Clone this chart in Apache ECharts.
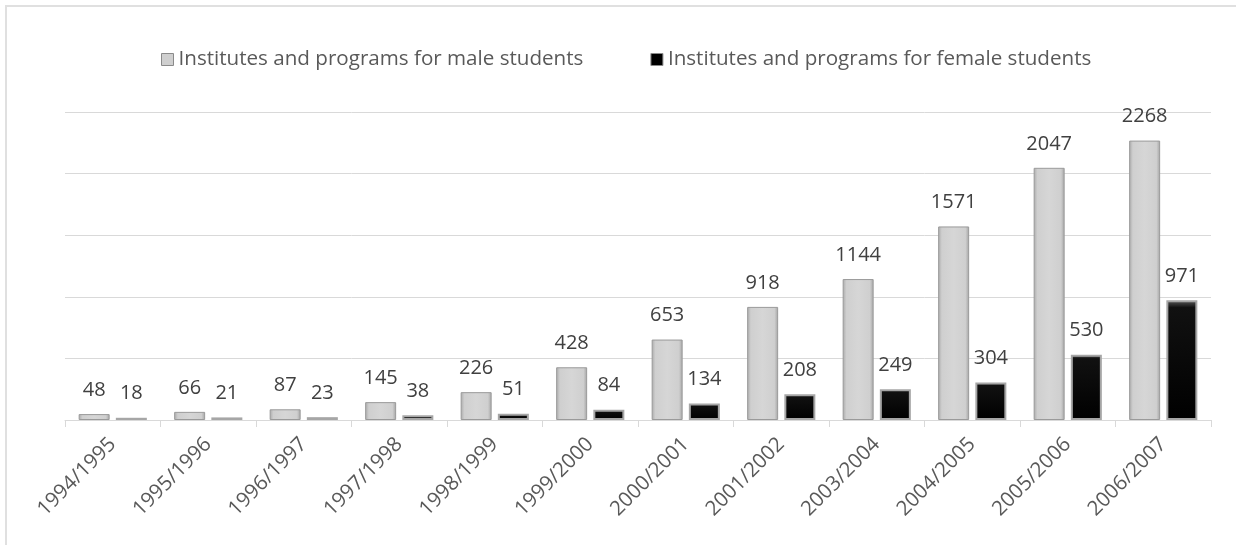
<!DOCTYPE html>
<html>
<head>
<meta charset="utf-8">
<script src="https://cdn.jsdelivr.net/npm/echarts@6/dist/echarts.min.js"></script>
<style>
html,body{margin:0;padding:0;background:#fff;}
#chart{width:1236px;height:545px;}
</style>
</head>
<body>
<div id="chart"></div>
<script>
var categories = ['1994/1995','1995/1996','1996/1997','1997/1998','1998/1999','1999/2000','2000/2001','2001/2002','2003/2004','2004/2005','2005/2006','2006/2007'];
var maleValues = [48,66,87,145,226,428,653,918,1144,1571,2047,2268];
var femaleValues = [18,21,23,38,51,84,134,208,249,304,530,971];
var seriesNames = ['Institutes and programs for male students','Institutes and programs for female students'];

var chart = echarts.init(document.getElementById('chart'));
var fontFam = '"Open Sans","Noto Sans",sans-serif';
var maleFill = new echarts.graphic.LinearGradient(0,0,1,0,[
  {offset:0,color:'#a9a9a9'},{offset:0.12,color:'#cfcfcf'},{offset:0.5,color:'#d6d6d6'},{offset:0.88,color:'#cfcfcf'},{offset:1,color:'#a3a3a3'}]);
var femaleFill = new echarts.graphic.LinearGradient(0,0,0,1,[
  {offset:0,color:'#5a5a5a'},{offset:0.06,color:'#111'},{offset:1,color:'#000'}]);
var labelCfg = {show:true,position:'top',distance:14,color:'#404040',fontSize:20,fontFamily:fontFam};
var option = {
  animation:false,
  backgroundColor:'#fff',
  graphic:[{type:'rect',shape:{x:6,y:6,width:1300,height:600},style:{fill:'none',stroke:'#e0e0e0',lineWidth:2},silent:true}],
  legend:{
    top:44,left:156,itemWidth:12,itemHeight:12,itemGap:67,
    textStyle:{color:'#595959',fontSize:20.6,fontFamily:fontFam,padding:[0,0,0,0]},
    data:[
      {name:seriesNames[0],icon:'rect',itemStyle:{color:'#cfcfcf',borderColor:'#8a8a8a',borderWidth:1}},
      {name:seriesNames[1],icon:'rect',itemStyle:{color:'#000',borderColor:'#8a8a8a',borderWidth:1}}
    ]
  },
  grid:{left:65,right:25,top:112,bottom:125},
  xAxis:{
    type:'category',data:categories,
    axisLine:{show:true,lineStyle:{color:'#d9d9d9',width:1}},
    axisTick:{show:true,length:7,lineStyle:{color:'#d9d9d9'}},
    axisLabel:{rotate:45,color:'#595959',fontSize:20.5,fontFamily:fontFam,margin:21,interval:0}
  },
  yAxis:{
    type:'value',min:0,max:2500,interval:500,
    axisLabel:{show:false},axisLine:{show:false},axisTick:{show:false},
    splitLine:{lineStyle:{color:'#d9d9d9',width:1}}
  },
  series:[
    {name:seriesNames[0],type:'bar',data:maleValues,barWidth:31,barGap:'20%',
     itemStyle:{color:maleFill,borderColor:'#9a9a9a',borderWidth:1},label:labelCfg},
    {name:seriesNames[1],type:'bar',data:femaleValues,barWidth:31,barGap:'20%',
     itemStyle:{color:femaleFill,borderColor:'#a6a6a6',borderWidth:2},label:labelCfg}
  ]
};
chart.setOption(option);
</script>
</body>
</html>
